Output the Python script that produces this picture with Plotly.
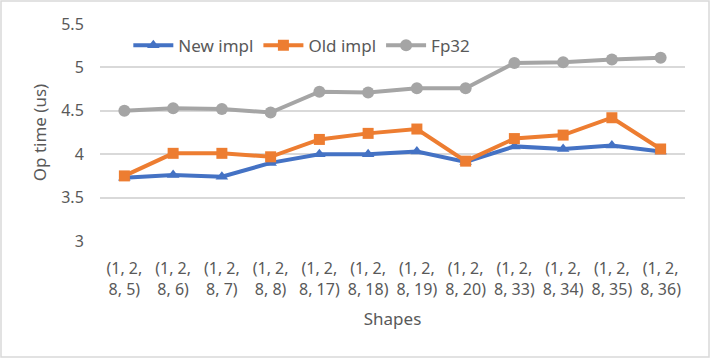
import plotly.graph_objects as go

shapes = ["(1, 2,<br>8, 5)", "(1, 2,<br>8, 6)", "(1, 2,<br>8, 7)", "(1, 2,<br>8, 8)",
          "(1, 2,<br>8, 17)", "(1, 2,<br>8, 18)", "(1, 2,<br>8, 19)", "(1, 2,<br>8, 20)",
          "(1, 2,<br>8, 33)", "(1, 2,<br>8, 34)", "(1, 2,<br>8, 35)", "(1, 2,<br>8, 36)"]
new_impl = [3.73, 3.76, 3.74, 3.90, 4.00, 4.00, 4.03, 3.91, 4.09, 4.06, 4.10, 4.03]
old_impl = [3.75, 4.01, 4.01, 3.97, 4.17, 4.24, 4.29, 3.92, 4.18, 4.22, 4.42, 4.06]
fp32 = [4.50, 4.53, 4.52, 4.48, 4.72, 4.71, 4.76, 4.76, 5.05, 5.06, 5.09, 5.11]

FONT = "Noto Sans"
TXT = "#595959"

fig = go.Figure()
fig.add_trace(go.Scatter(x=shapes, y=new_impl, name="New impl", mode="lines+markers",
                         line=dict(color="#4472C4", width=4),
                         marker=dict(symbol="triangle-up", size=11, color="#4472C4")))
fig.add_trace(go.Scatter(x=shapes, y=old_impl, name="Old impl", mode="lines+markers",
                         line=dict(color="#ED7D31", width=4),
                         marker=dict(symbol="square", size=11, color="#ED7D31")))
fig.add_trace(go.Scatter(x=shapes, y=fp32, name="Fp32", mode="lines+markers",
                         line=dict(color="#A5A5A5", width=4),
                         marker=dict(symbol="circle", size=12, color="#A5A5A5")))

fig.update_layout(
    width=710, height=358,
    margin=dict(l=100, r=25, t=24, b=117),
    paper_bgcolor="white", plot_bgcolor="white",
    font=dict(family=FONT, color=TXT, size=15),
    showlegend=True,
    legend=dict(orientation="h", x=0.345, y=0.9, xanchor="center", yanchor="middle",
                font=dict(size=17, color=TXT), bgcolor="rgba(0,0,0,0)",
                itemwidth=40, tracegroupgap=0),
    xaxis=dict(type="category", range=[-0.5, len(shapes) - 0.5],
               showgrid=False, showline=False, zeroline=False,
               automargin=False,
               ticks="outside", ticklen=13, tickcolor="rgba(0,0,0,0)",
               tickfont=dict(size=16, color=TXT),
               title=dict(text="Shapes", font=dict(size=17, color=TXT), standoff=14)),
    yaxis=dict(range=[3, 5.5], dtick=0.5, showgrid=True, gridcolor="#D9D9D9", gridwidth=1.5,
               zeroline=False, showline=False, automargin=False,
               tickfont=dict(size=16, color=TXT),
               ticks="outside", ticklen=12, tickcolor="rgba(0,0,0,0)",
               title=dict(text="Op time (us)", font=dict(size=17, color=TXT), standoff=10)),
    shapes=[dict(type="rect", xref="paper", yref="paper", x0=-99/585, x1=1+24/585,
                 y0=-116/217, y1=1+23/217, line=dict(color="#D9D9D9", width=1.5),
                 fillcolor="rgba(0,0,0,0)", layer="below")],
)

fig.write_html("out.html", config={"displayModeBar": False},
               post_script="document.body.style.margin='0';")
